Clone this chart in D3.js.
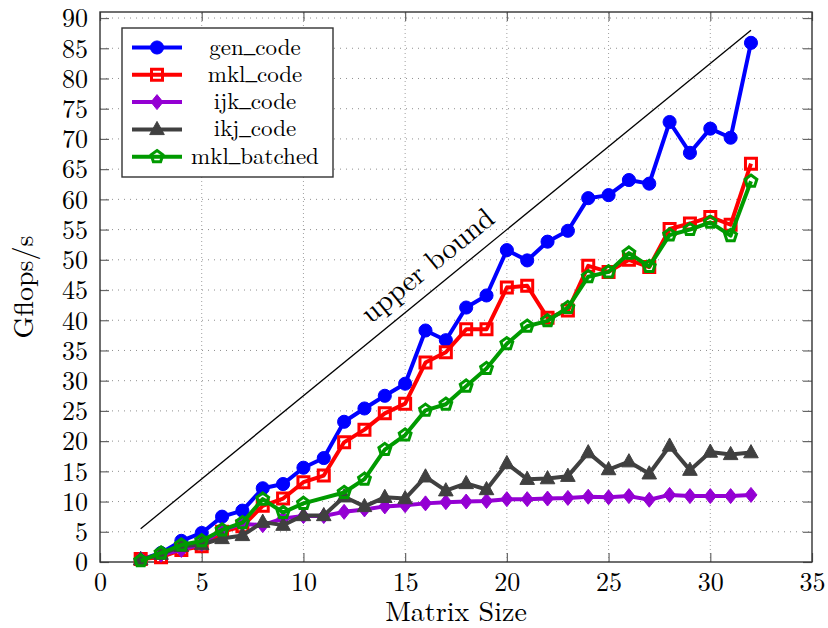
<!DOCTYPE html>
<html>
<head>
<meta charset="utf-8">
<script src="https://cdn.jsdelivr.net/npm/d3@7"></script>
<style>
  html, body { margin: 0; padding: 0; background: #fff; }
  svg { display: block; }
</style>
</head>
<body>
<svg id="chart" width="828" height="628"></svg>
<script>
// ---------- data ----------
const sizes = [2,3,4,5,6,7,8,9,10,11,12,13,14,15,16,17,18,19,20,21,22,23,24,25,26,27,28,29,30,31,32];
const genCode = [0.4,1.5,3.5,4.8,7.5,8.5,12.2,12.9,15.6,17.2,23.2,25.4,27.5,29.5,38.3,36.7,42.1,44.1,51.6,49.9,53.0,54.8,60.2,60.7,63.2,62.6,72.8,67.7,71.7,70.2,85.9];
const mklCode = [0.5,0.8,2.0,2.6,5.0,5.9,9.3,10.5,13.2,14.3,19.8,21.9,24.6,26.2,33.0,34.7,38.5,38.5,45.4,45.7,40.4,41.6,49.0,48.0,50.0,48.8,55.1,56.0,57.1,55.8,65.9];
const ijkCode = [0.5,1.2,2.0,3.0,5.3,6.3,6.1,7.2,7.6,7.6,8.3,8.7,9.2,9.4,9.7,9.9,10.0,10.1,10.4,10.4,10.5,10.6,10.8,10.7,10.9,10.3,11.1,10.9,10.9,10.9,11.1];
const ikjCode = [0.4,1.3,2.6,2.9,3.9,4.4,6.6,6.1,7.7,7.7,10.8,9.2,10.7,10.5,14.1,11.8,13.0,12.0,16.3,13.7,13.8,14.2,18.1,15.3,16.6,14.6,19.2,15.2,18.2,17.8,18.1];
const mklBatched = [0.2,1.5,2.8,3.5,5.3,6.5,10.4,8.2,9.7,null,11.5,13.7,18.6,21.0,25.1,26.1,29.1,32.0,36.1,39.0,39.9,42.1,47.2,48.0,51.1,48.9,54.1,55.0,56.2,54.0,63.0];
const boundX = [2, 32];
const boundY = [5.5, 88];
const xTicks = [0,5,10,15,20,25,30,35];
const yTicks = [0,5,10,15,20,25,30,35,40,45,50,55,60,65,70,75,80,85,90];
const seriesNames = ["gen_code","mkl_code","ijk_code","ikj_code","mkl_batched"];
const seriesValues = [genCode, mklCode, ijkCode, ikjCode, mklBatched];
const seriesColors = ["#0000ff","#ff0000","#9400d3","#404040","#009a00"];
const seriesMarks = ["circle","square","diamond","triangle","pentagon"];
const xLabel = "Matrix Size";
const yLabel = "Gflops/s";
const boundLabel = "upper bound";

const FONT = "font-family:'Latin Modern Roman','CMU Serif','Liberation Serif',serif;";

// ---------- layout ----------
const L = 100, R = 812, T = 12, B = 562;
const svg = d3.select("#chart");
const x = d3.scaleLinear().domain([0, 35]).range([L, R]);
const y = d3.scaleLinear().domain([0, 91]).range([B, T]);

// grid
const grid = svg.append("g");
grid.selectAll("line.gx").data(xTicks.filter(t => t > 0 && t < 35)).join("line")
  .attr("x1", d => x(d)).attr("x2", d => x(d)).attr("y1", B).attr("y2", T)
  .attr("stroke", "#a0a0a0").attr("stroke-width", 1).attr("stroke-dasharray", "1,3");
grid.selectAll("line.gy").data(yTicks.filter(t => t > 0)).join("line")
  .attr("y1", d => y(d)).attr("y2", d => y(d)).attr("x1", L).attr("x2", R)
  .attr("stroke", "#909090").attr("stroke-width", 1).attr("stroke-dasharray", "1,5");

// axes (ticks inward, all four sides)
const tickLen = 9;
const axB = svg.append("g").attr("transform", `translate(0,${B})`)
  .call(d3.axisBottom(x).tickValues(xTicks).tickSize(-tickLen).tickPadding(11).tickFormat(d3.format("d")));
const axT = svg.append("g").attr("transform", `translate(0,${T})`)
  .call(d3.axisTop(x).tickValues(xTicks).tickSize(-tickLen).tickFormat(""));
const axL = svg.append("g").attr("transform", `translate(${L},0)`)
  .call(d3.axisLeft(y).tickValues(yTicks).tickSize(-tickLen).tickPadding(12).tickFormat(d3.format("d")));
const axR = svg.append("g").attr("transform", `translate(${R},0)`)
  .call(d3.axisRight(y).tickValues(yTicks).tickSize(-tickLen).tickFormat(""));
[axB, axT, axL, axR].forEach(a => {
  a.select(".domain").remove();
  a.selectAll(".tick line").attr("stroke", "#666").attr("stroke-width", 1.2);
  a.selectAll("text").attr("style", FONT + "font-size:26px;fill:#000");
});
axB.selectAll("text").attr("dy", "0.71em");
axL.selectAll("text").attr("dy", "0.34em");

// frame
svg.append("rect").attr("x", L).attr("y", T).attr("width", R - L).attr("height", B - T)
  .attr("fill", "none").attr("stroke", "#333").attr("stroke-width", 1.4);

// upper bound line
const boundPts = boundX.map((v, i) => [v, boundY[i]]);
svg.append("path").datum(boundPts)
  .attr("d", d3.line().x(d => x(d[0])).y(d => y(d[1])))
  .attr("stroke", "#000").attr("stroke-width", 1.3).attr("fill", "none");
const ang = Math.atan2(y(boundY[1]) - y(boundY[0]), x(boundX[1]) - x(boundX[0])) * 180 / Math.PI;
const lx = 16.8, ly = boundY[0] + (lx - boundX[0]) * (boundY[1] - boundY[0]) / (boundX[1] - boundX[0]);
svg.append("text")
  .attr("transform", `translate(${x(lx)},${y(ly)}) rotate(${ang}) translate(0,-13)`)
  .attr("text-anchor", "middle").attr("style", FONT + "font-size:29px;fill:#000").text(boundLabel);

// markers
function markPath(type) {
  switch (type) {
    case "circle": return d3.symbol(d3.symbolCircle, 135)();
    case "square": return "M-5.5,-5.5H5.5V5.5H-5.5Z";
    case "diamond": return "M0,-7.5L6,0L0,7.5L-6,0Z";
    case "triangle": return "M0,-8L7.3,5.2L-7.3,5.2Z";
    case "pentagon": {
      const r = 6.2, pts = [];
      for (let k = 0; k < 5; k++) {
        const a = -Math.PI / 2 + k * 2 * Math.PI / 5;
        pts.push([r * Math.cos(a), r * Math.sin(a)]);
      }
      return "M" + pts.map(p => p.join(",")).join("L") + "Z";
    }
  }
}
function drawMark(g, type, color) {
  const p = g.append("path").attr("d", markPath(type));
  if (type === "square" || type === "pentagon") {
    p.attr("fill", "none").attr("stroke", color).attr("stroke-width", 3);
  } else {
    p.attr("fill", color).attr("stroke", color).attr("stroke-width", 1);
  }
}

const lineGen = d3.line().x(d => x(d[0])).y(d => y(d[1]));
seriesValues.forEach((vals, si) => {
  const pts = sizes.map((s, i) => [s, vals[i]]).filter(d => d[1] !== null);
  const g = svg.append("g");
  g.append("path").datum(pts).attr("d", lineGen)
    .attr("fill", "none").attr("stroke", seriesColors[si]).attr("stroke-width", 4)
    .attr("stroke-linejoin", "round");
  pts.forEach(d => {
    const mg = g.append("g").attr("transform", `translate(${x(d[0])},${y(d[1])})`);
    drawMark(mg, seriesMarks[si], seriesColors[si]);
  });
});

// legend
const lg = svg.append("g");
lg.append("rect").attr("x", 122).attr("y", 28).attr("width", 211).attr("height", 149)
  .attr("fill", "#fff").attr("stroke", "#333").attr("stroke-width", 1.4);
seriesNames.forEach((name, i) => {
  const cy = 47.5 + i * 27.3;
  lg.append("line").attr("x1", 132).attr("x2", 182).attr("y1", cy).attr("y2", cy)
    .attr("stroke", seriesColors[i]).attr("stroke-width", 4);
  const mg = lg.append("g").attr("transform", `translate(157,${cy})`);
  drawMark(mg, seriesMarks[i], seriesColors[i]);
  const parts = name.split("_");
  const t = lg.append("text").attr("x", 255).attr("y", cy + 7)
    .attr("text-anchor", "middle").attr("style", FONT + "font-size:23px;fill:#000");
  t.append("tspan").text(parts[0]);
  t.append("tspan").attr("style", "font-family:'Liberation Serif',serif").attr("dy", "-0.12em").text("_");
  t.append("tspan").attr("dy", "0.12em").text(parts[1]);
});

// axis labels
svg.append("text").attr("x", (L + R) / 2).attr("y", 621).attr("text-anchor", "middle")
  .attr("style", FONT + "font-size:28px;fill:#000").text(xLabel);
svg.append("text").attr("transform", `translate(33,${(T + B) / 2}) rotate(-90)`)
  .attr("text-anchor", "middle").attr("style", FONT + "font-size:28px;fill:#000").text(yLabel);
</script>
</body>
</html>
